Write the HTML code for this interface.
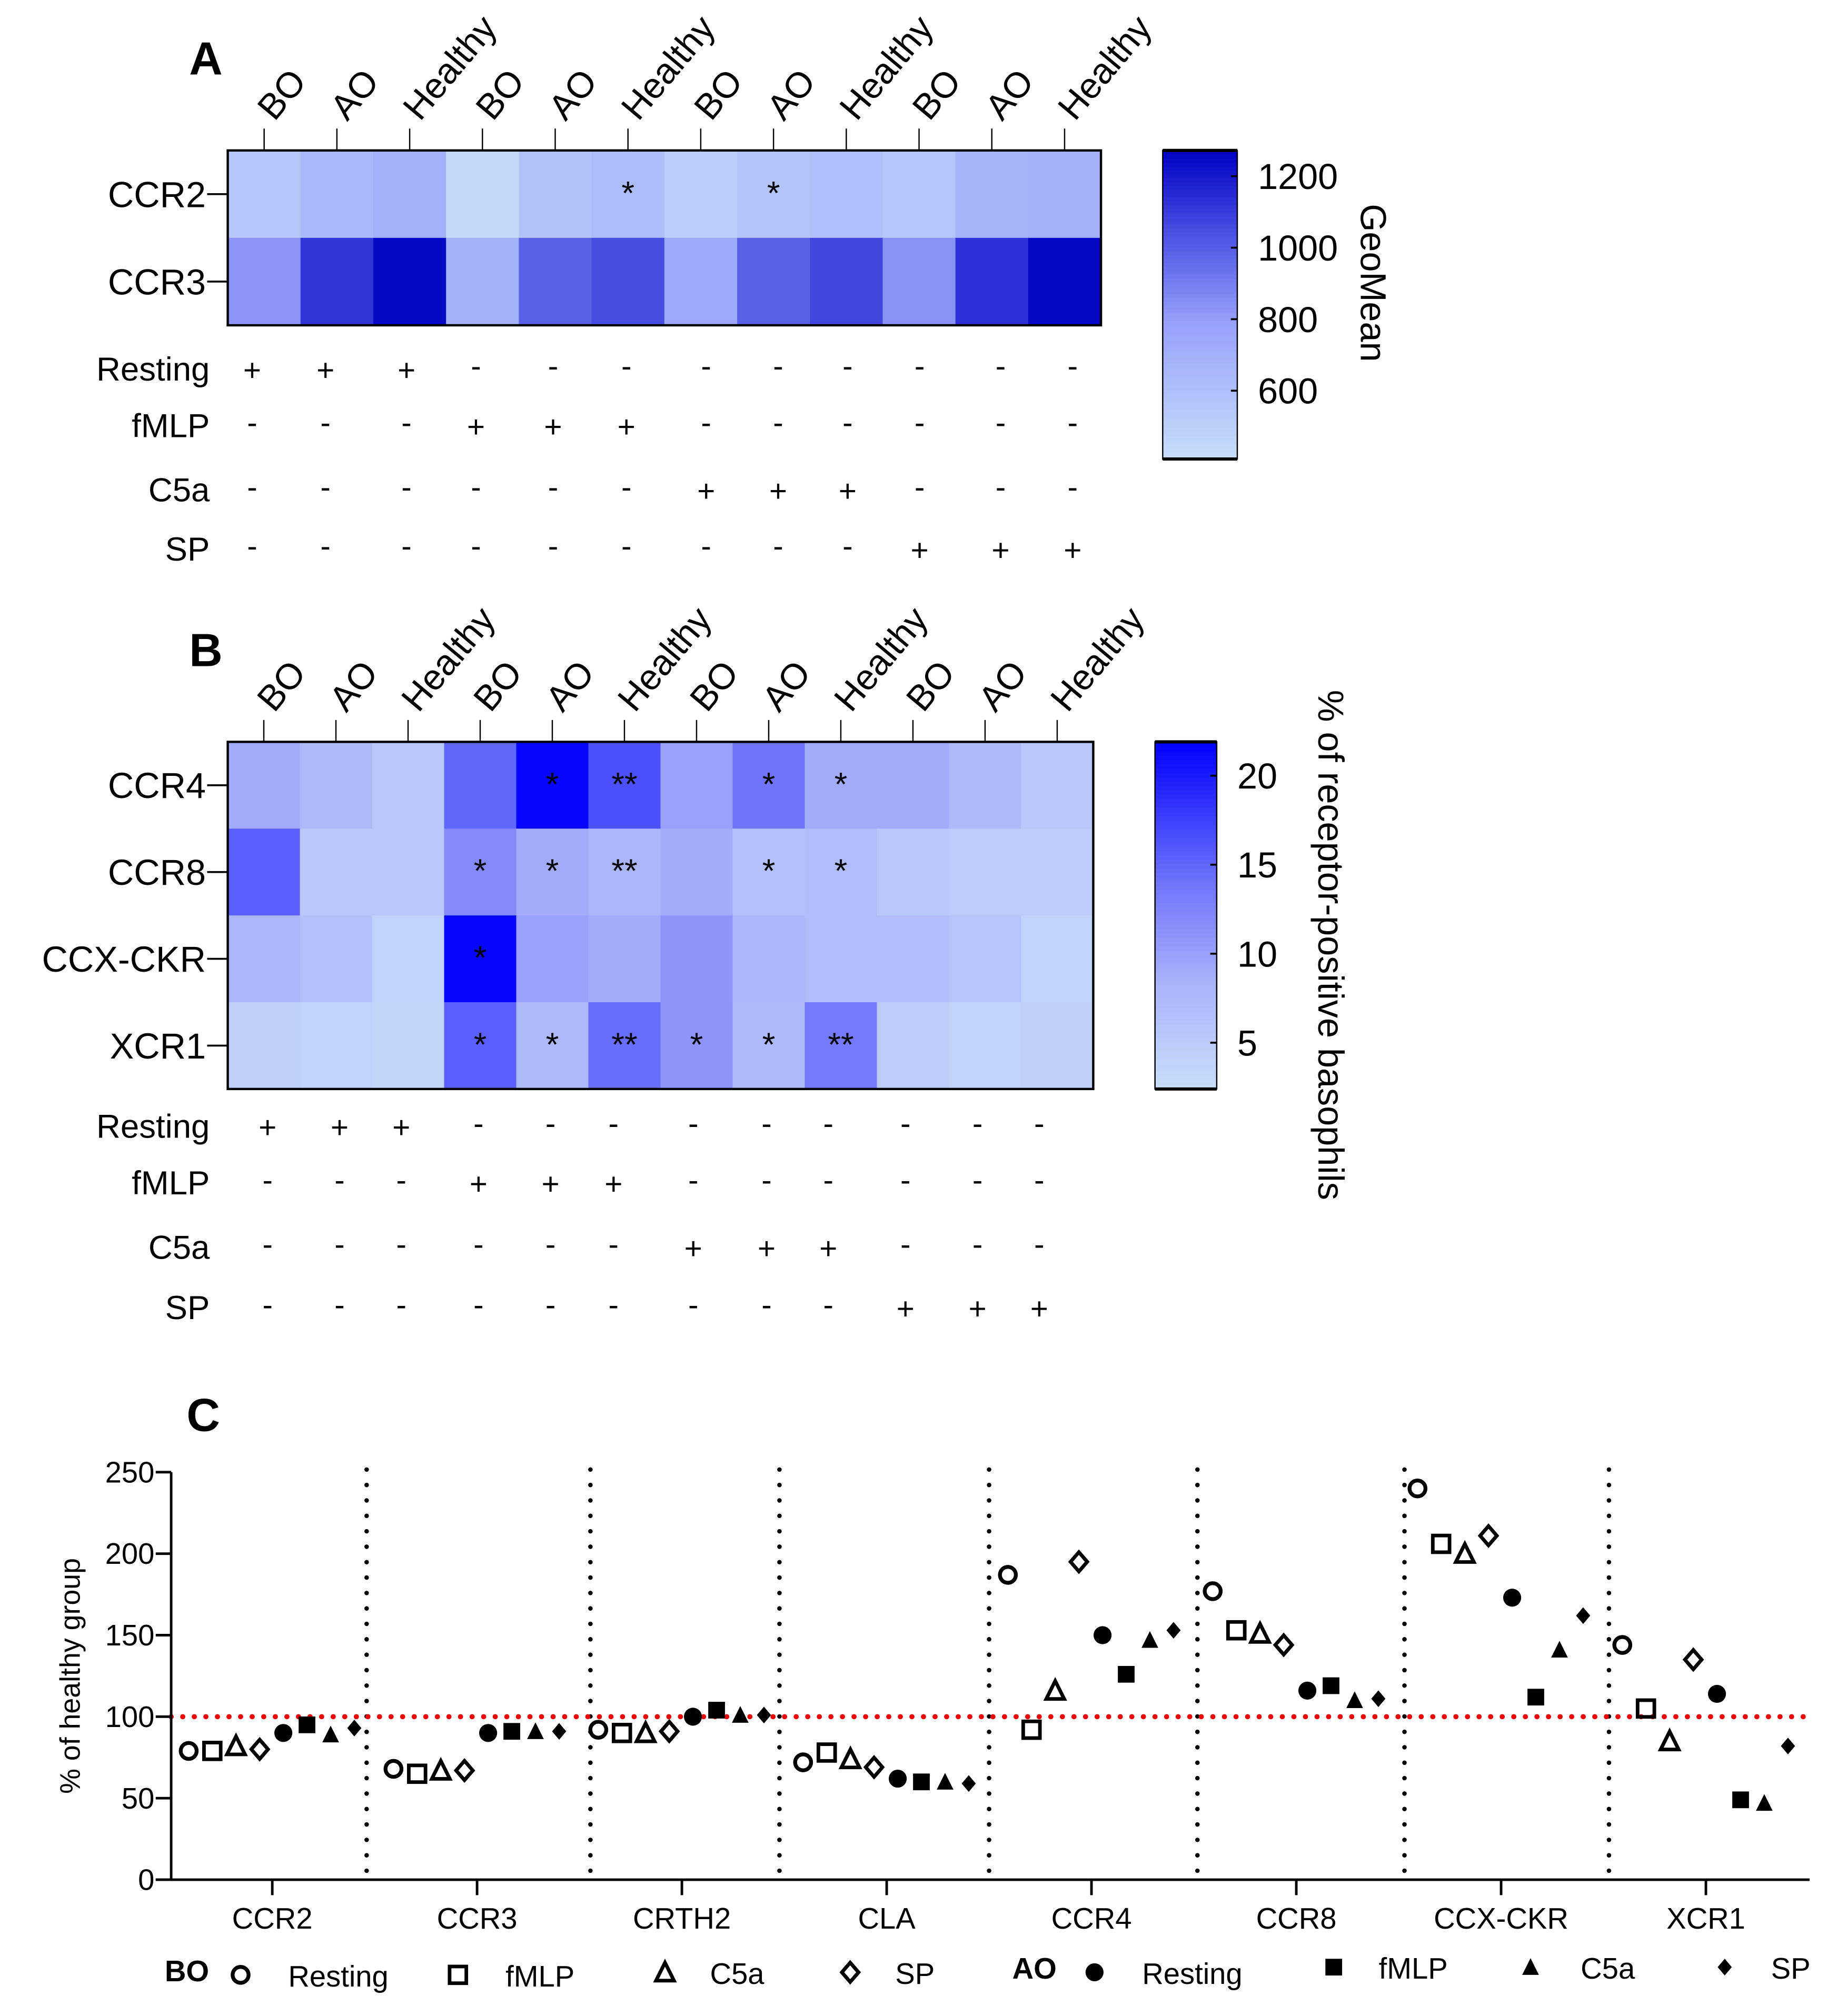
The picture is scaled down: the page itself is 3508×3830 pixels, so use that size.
<!DOCTYPE html>
<html><head><meta charset="utf-8"><style>
html,body{margin:0;padding:0;background:#fff}
svg{display:block;font-family:"Liberation Sans",Arial,sans-serif}
</style></head><body>
<svg id="fig" width="3508" height="3830" viewBox="0 0 1436 1568" xmlns="http://www.w3.org/2000/svg">
<rect width="1436" height="1568" fill="#fff"/>
</svg>
<script>
// ---------- DATA ----------
const groups = ["BO","AO","Healthy","BO","AO","Healthy","BO","AO","Healthy","BO","AO","Healthy"];
const conditions = ["Resting","fMLP","C5a","SP"];
const condSigns = [
 ["+","+","+","-","-","-","-","-","-","-","-","-"],
 ["-","-","-","+","+","+","-","-","-","-","-","-"],
 ["-","-","-","-","-","-","+","+","+","-","-","-"],
 ["-","-","-","-","-","-","-","-","-","+","+","+"]];
const rowsA = ["CCR2","CCR3"];
const valuesA_CCR2 = [560,640,700,440,580,620,520,570,600,560,680,700];
const valuesA_CCR3 = [830,1120,1250,700,990,1050,750,990,1070,840,1130,1250];
const starsA_CCR2 = ["","","","","","*","","*","","","",""];
const starsA_CCR3 = ["","","","","","","","","","","",""];
const ticksA = [600,800,1000,1200];
const rowsB = ["CCR4","CCR8","CCX-CKR","XCR1"];
const valuesB_CCR4 = [9,7.5,5.5,15,21.5,16.5,10,14,9,9,7.5,5.5];
const valuesB_CCR8 = [15.5,5.5,5.5,12,9,8,9,6.5,7,5.5,5,5];
const valuesB_CCXCKR = [8,6.5,4,21.5,10,9,11,8,7,7,6,4];
const valuesB_XCR1 = [4.5,4,3.5,15.5,7.5,14.5,11,7.5,13.5,5,4,4.5];
const starsB_CCR4 = ["","","","","*","**","","*","*","","",""];
const starsB_CCR8 = ["","","","*","*","**","","*","*","","",""];
const starsB_CCXCKR = ["","","","*","","","","","","","",""];
const starsB_XCR1 = ["","","","*","*","**","*","*","**","","",""];
const ticksB = [5,10,15,20];
const categoriesC = ["CCR2","CCR3","CRTH2","CLA","CCR4","CCR8","CCX-CKR","XCR1"];
const seriesC = ["BO Resting","BO fMLP","BO C5a","BO SP","AO Resting","AO fMLP","AO C5a","AO SP"];
const C_CCR2 = [79,79,82,80,90,95,89,93];
const C_CCR3 = [68,65,67,67,90,91,91,91];
const C_CRTH2 = [92,90,90,91,100,104,101,101];
const C_CLA = [72,78,74,69,62,60,60,59];
const C_CCR4 = [187,92,116,195,150,126,147,153];
const C_CCR8 = [177,153,151,144,116,119,110,111];
const C_CCXCKR = [240,206,200,211,173,112,141,162];
const C_XCR1 = [144,105,85,135,114,49,47,82];
const ticksC = [0,50,100,150,200,250];
const referenceC = 100;

// ---------- HELPERS ----------
const svg = document.getElementById('fig');
const NS = "http://www.w3.org/2000/svg";
function mk(tag, attrs, parent, txt){
  const e = document.createElementNS(NS, tag);
  for (const k in attrs) e.setAttribute(k, attrs[k]);
  if (txt !== undefined) e.textContent = txt;
  (parent || svg).appendChild(e);
  return e;
}
function lerp(a,b,t){return a+(b-a)*t;}
function grad(stops, t){
  t = Math.max(0, Math.min(1, t));
  for (let i=0;i<stops.length-1;i++){
    const [t0,c0]=stops[i],[t1,c1]=stops[i+1];
    if (t<=t1){const u=(t-t0)/(t1-t0);
      return `rgb(${Math.round(lerp(c0[0],c1[0],u))},${Math.round(lerp(c0[1],c1[1],u))},${Math.round(lerp(c0[2],c1[2],u))})`;}
  }
  const c=stops[stops.length-1][1]; return `rgb(${c[0]},${c[1]},${c[2]})`;
}
const stopsA = [[0,[200,222,250]],[0.45,[150,160,250]],[0.75,[70,75,225]],[1,[0,0,195]]];
const stopsB = [[0,[200,222,250]],[0.3,[170,180,250]],[0.6,[110,115,250]],[1,[0,0,255]]];

function heatmap(opts){
  const {letter,letterY,x0,y0,w,h,rows,vals,stars,vmin,vmax,stops,ticks,cbX,cbW,cbH,title,titleX,condX,condY,prefix} = opts;
  const cw = w/groups.length, rh = h/rows.length;
  const g = mk('g',{},svg);
  
  
  const L = mk('text',{x:147,y:letterY,'font-size':36,'font-weight':'bold'},g,letter);
  
  
  rows.forEach((r,ri)=>{
    vals[ri].forEach((v,ci)=>{
      const c = mk('rect',{x:x0+ci*cw,y:y0+ri*rh,width:cw+0.6,height:rh+0.6,fill:grad(stops,(v-vmin)/(vmax-vmin))},g);
      
      
      if (stars[ri][ci]){
        const s = mk('text',{x:x0+(ci+0.5)*cw,y:y0+ri*rh+rh*0.5+8,'font-size':26,'text-anchor':'middle'},g,stars[ri][ci]);
        
        
      }
    });
    const yc = y0+(ri+0.5)*rh;
    mk('line',{x1:x0-16,x2:x0,y1:yc,y2:yc,stroke:'#000','stroke-width':1.5},g);
    const t = mk('text',{x:x0-17,y:yc+10,'font-size':28,'text-anchor':'end'},g,r);
    
    
  });
  mk('rect',{x:x0,y:y0,width:w,height:h,fill:'none',stroke:'#000','stroke-width':1.8},g);
  groups.forEach((gr,ci)=>{
    const xc = x0+(ci+0.5)*cw;
    mk('line',{x1:xc,x2:xc,y1:y0-17,y2:y0,stroke:'#000','stroke-width':1},g);
    const t = mk('text',{x:0,y:0,'font-size':28,transform:`translate(${xc+8},${y0-22}) rotate(-50)`},g,gr);
    
    
  });
  const cb = mk('g',{},g);
  
  
  const N=80;
  for(let i=0;i<N;i++){
    mk('rect',{x:cbX,y:y0+cbH-(i+1)*cbH/N,width:cbW,height:cbH/N+0.6,fill:grad(stops,(i+0.5)/N)},cb);
  }
  mk('rect',{x:cbX,y:y0,width:cbW,height:cbH,fill:'none',stroke:'#000','stroke-width':1},cb);
  mk('line',{x1:cbX,x2:cbX+cbW,y1:y0,y2:y0,stroke:'#000','stroke-width':2.5},cb);
  mk('line',{x1:cbX,x2:cbX+cbW,y1:y0+cbH,y2:y0+cbH,stroke:'#000','stroke-width':2.5},cb);
  ticks.forEach(tv=>{
    const y = y0+cbH-(tv-vmin)/(vmax-vmin)*cbH;
    mk('line',{x1:cbX+cbW-5,x2:cbX+cbW,y1:y,y2:y,stroke:'#000','stroke-width':1.5},cb);
    const t = mk('text',{x:cbX+cbW+16,y:y+10,'font-size':28},cb,String(tv));
    
    
  });
  const tt = mk('text',{x:0,y:0,'font-size':28,'text-anchor':'middle',transform:`translate(${titleX},${y0+opts.titleYOff}) rotate(90)`},cb,title);
  
  
  conditions.forEach((cn,ri)=>{
    const t = mk('text',{x:163,y:condY[ri]+9,'font-size':26,'text-anchor':'end'},g,cn);
    
    
    condSigns[ri].forEach((s,ci)=>{
      const st = mk('text',{x:condX[ci],y:condY[ri]+(s==='+'?9:6),'font-size':24,'text-anchor':'middle'},g,s==='+'?'+':'-');
      
      
    });
  });
}

heatmap({letter:'A',letterY:58,x0:177,y0:117,w:679,h:136,rows:rowsA,
  vals:[valuesA_CCR2,valuesA_CCR3],stars:[starsA_CCR2,starsA_CCR3],vmin:409,vmax:1272,stops:stopsA,ticks:ticksA,
  cbX:904,cbW:58,cbH:240,title:'GeoMean',titleX:1058,titleYOff:103,
  condX:[196,253,316,370,430,487,549,605,659,715,778,834],condY:[287,331,381,427],prefix:'panel-a'});
heatmap({letter:'B',letterY:518,x0:177,y0:577,w:673,h:270,rows:rowsB,
  vals:[valuesB_CCR4,valuesB_CCR8,valuesB_CCXCKR,valuesB_XCR1],stars:[starsB_CCR4,starsB_CCR8,starsB_CCXCKR,starsB_XCR1],
  vmin:2.4,vmax:21.9,stops:stopsB,ticks:ticksB,
  cbX:898,cbW:48,cbH:270,title:'% of receptor-positive basophils',titleX:1025,titleYOff:158,
  condX:[208,264,312,372,428,477,539,596,644,704,760,808],condY:[876,920,970,1017],prefix:'panel-b'});

// ---------- PANEL C ----------
const Cvals = [C_CCR2,C_CCR3,C_CRTH2,C_CLA,C_CCR4,C_CCR8,C_CCXCKR,C_XCR1];
const gc = mk('g',{},svg);


const lc = mk('text',{x:145,y:1113,'font-size':36,'font-weight':'bold'},gc,'C');


const axX0=133, axX1=1407, yZero=1462, yTop=1145;
const yScale = v => yZero - (v/250)*(yZero-yTop);
const catW = (axX1-axX0)/categoriesC.length;
const xCat = i => axX0 + catW*(i+0.5) - 1;
const ptStep = 18.4;
const xPt = (ci,si) => xCat(ci) - 65 + si*ptStep;
[285,459,606,769,931,1092,1251].forEach(x=>{
  const l = mk('line',{x1:x,x2:x,y1:1143,y2:1462,stroke:'#000','stroke-width':3.5,'stroke-dasharray':'0 12','stroke-linecap':'round'},gc);
  
  
});
const rl = mk('line',{x1:axX0,x2:axX1,y1:yScale(referenceC),y2:yScale(referenceC),stroke:'#e00','stroke-width':4,'stroke-dasharray':'0 9','stroke-linecap':'round'},gc);


mk('line',{x1:axX0,x2:axX0,y1:yTop,y2:yZero,stroke:'#000','stroke-width':2},gc);
mk('line',{x1:axX0-12,x2:axX1,y1:yZero,y2:yZero,stroke:'#000','stroke-width':2},gc);
ticksC.forEach(tv=>{
  const y=yScale(tv);
  mk('line',{x1:axX0-12,x2:axX0,y1:y,y2:y,stroke:'#000','stroke-width':2},gc);
  const t = mk('text',{x:axX0-13,y:y+8,'font-size':23,'text-anchor':'end'},gc,String(tv));
  
  
});
const yt = mk('text',{x:0,y:0,'font-size':22,'text-anchor':'middle',transform:`translate(62,${(yTop+yZero)/2}) rotate(-90)`},gc,'% of healthy group');


categoriesC.forEach((c,i)=>{
  const x=xCat(i);
  mk('line',{x1:x,x2:x,y1:yZero,y2:yZero+12,stroke:'#000','stroke-width':2},gc);
  const t = mk('text',{x:x,y:1500,'font-size':23,'text-anchor':'middle'},gc,c);
  
  
});
function marker(kind,x,y,parent){
  const sw=2.8;
  switch(kind){
    case 0: return mk('circle',{cx:x,cy:y,r:6.2,fill:'none',stroke:'#000','stroke-width':3},parent);
    case 1: return mk('rect',{x:x-6.5,y:y-6.5,width:13,height:13,fill:'none',stroke:'#000','stroke-width':sw},parent);
    case 2: return mk('polygon',{points:`${x},${y-7.5} ${x+7},${y+6.5} ${x-7},${y+6.5}`,fill:'none',stroke:'#000','stroke-width':sw,'stroke-linejoin':'miter'},parent);
    case 3: return mk('polygon',{points:`${x},${y-7.5} ${x+6.5},${y} ${x},${y+7.5} ${x-6.5},${y}`,fill:'none',stroke:'#000','stroke-width':sw},parent);
    case 4: return mk('circle',{cx:x,cy:y,r:7,fill:'#000'},parent);
    case 5: return mk('rect',{x:x-6.5,y:y-6.5,width:13,height:13,fill:'#000'},parent);
    case 6: return mk('polygon',{points:`${x},${y-7} ${x+6.5},${y+6} ${x-6.5},${y+6}`,fill:'#000'},parent);
    default: return mk('polygon',{points:`${x},${y-6.5} ${x+5.5},${y} ${x},${y+6.5} ${x-5.5},${y}`,fill:'#000'},parent);
  }
}
Cvals.forEach((arr,ci)=>{
  arr.forEach((v,si)=>{
    const m = marker(si,xPt(ci,si),yScale(v),gc);
    
    
  });
});
const lg = mk('g',{},svg);


const l1 = mk('text',{x:128,y:1541,'font-size':23,'font-weight':'bold'},lg,'BO');


const l2 = mk('text',{x:787,y:1539,'font-size':23,'font-weight':'bold'},lg,'AO');


const legMX = [187,356,517,661,851,1037,1190,1341];
const legTX = [224,393,552,696,888,1072,1229,1377];
const legY = [1536,1536,1534,1534,1534,1530,1530,1530];
const legLbl = ["Resting","fMLP","C5a","SP","Resting","fMLP","C5a","SP"];
legLbl.forEach((t,i)=>{
  const m = marker(i,legMX[i],legY[i],lg);
  
  
  const tx = mk('text',{x:legTX[i],y:legY[i]+9,'font-size':23},lg,t);
  
  
});
</script>
</body></html>
